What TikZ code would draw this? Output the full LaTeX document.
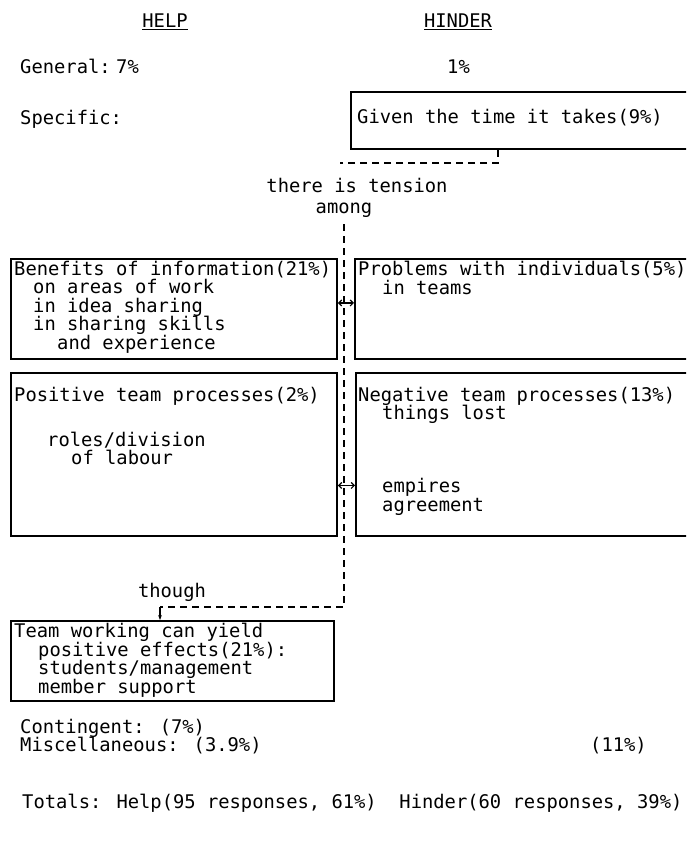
\documentclass[tikz,border=0pt]{standalone}
\usepackage{fontspec}
\setmainfont{DejaVu Sans Mono}
\usetikzlibrary{arrows.meta}

\newcommand\diagfont{\fontsize{18.8}{18.5}\selectfont\lineskiplimit=-20pt\relax}

\tikzset{
  box/.style={draw, line width=1.9pt, inner sep=0pt, anchor=north west},
  txt/.style={anchor=north west, inner sep=0pt, align=left},
  lbl/.style={anchor=base west, inner sep=0pt},
  link/.style={line width=1.8pt, dash pattern=on 7pt off 5pt},
  tie/.style={line width=1.2pt, {Straight Barb[length=3pt]}-{Straight Barb[length=3pt]}},
}

\begin{document}
\begin{tikzpicture}[x=1pt, y=-1pt, font=\diagfont]
  \clip (0,0) rectangle (686,845);

  % headings
  \node[anchor=base, inner sep=0pt] at (165,28) (help)   {\underline{HELP}};
  \node[anchor=base, inner sep=0pt] at (458,28) (hinder) {\underline{HINDER}};
  \node[lbl] at (20,74)  (general)   {General:};
  \node[lbl] at (116,74) (genhelp)   {7\%};
  \node[lbl] at (447,74) (genhinder) {1\%};
  \node[lbl] at (20,125) (specific)  {Specific:};

  % boxes
  \node[box, minimum width=346pt, minimum height=57pt]  at (350,91)  (given)     {};
  \node[box, minimum width=326pt, minimum height=100pt] at (10,258)  (benefits)  {};
  \node[box, minimum width=340pt, minimum height=100pt] at (354,258) (problems)  {};
  \node[box, minimum width=326pt, minimum height=163pt] at (10,372)  (positive)  {};
  \node[box, minimum width=340pt, minimum height=163pt] at (355,372) (negative)  {};
  \node[box, minimum width=323pt, minimum height=80pt]  at (10,620)  (team)      {};

  % box contents
  \node[lbl] at (357,124) (giventxt) {Given the time it takes(9\%)};
  \node[txt] at (14,261) (benefitstxt) {Benefits of information(21\%)\\
    \hspace*{19pt}on areas of work\\
    \hspace*{19pt}in idea sharing\\
    \hspace*{19pt}in sharing skills\\
    \hspace*{43pt}and experience};
  \node[txt] at (358,261) (problemstxt) {Problems with individuals(5\%)\\
    \hspace*{24pt}in teams};
  \node[txt] at (14,387) (positivetxt) {Positive team processes(2\%)\\[26.5pt]
    \hspace*{33pt}roles/division\\
    \hspace*{57pt}of labour};
  \node[txt] at (358,387) (negativetxt) {Negative team processes(13\%)\\
    \hspace*{24pt}things lost\\[54.5pt]
    \hspace*{24pt}empires\\
    \hspace*{24pt}agreement};
  \node[txt] at (14,623) (teamtxt) {Team working can yield\\
    \hspace*{24pt}positive effects(21\%):\\
    \hspace*{24pt}students/management\\
    \hspace*{24pt}member support};

  % links
  \node[anchor=base, inner sep=0pt] at (357,192) (tension) {there is tension};
  \node[anchor=base, inner sep=1pt] at (344,213) (among)   {among};
  \coordinate (drop) at (498,163);
  \coordinate (tensionend) at (340,163);
  \draw[link] (drop |- given.south) -- (drop) -- (tensionend);
  \coordinate (turn) at (160,607);
  \draw[link] ([yshift=-6pt]among.south) -- (among.south |- turn) -- (turn);
  \draw[line width=1.4pt, -{Stealth[length=5pt]}] (turn) -- (turn |- team.north);
  \node[anchor=base, inner sep=0pt] at (172,597) (though) {though};

  \draw[tie] ([yshift=6pt]benefits.east) -- ([yshift=6pt]problems.west);
  \draw[tie] ([yshift=-31pt]positive.east) -- ([yshift=-31pt]negative.west);

  % bottom lines
  \node[txt] at (20,719) (leftover) {Contingent: (7\%)\\
    Miscellaneous: (3.9\%)};
  \node[lbl] at (590,751) (hindermisc) {(11\%)};
  \node[lbl] at (22,808) (totals) {Totals: Help(95 responses, 61\%)\ \ Hinder(60 responses, 39\%)};
\end{tikzpicture}
\end{document}
